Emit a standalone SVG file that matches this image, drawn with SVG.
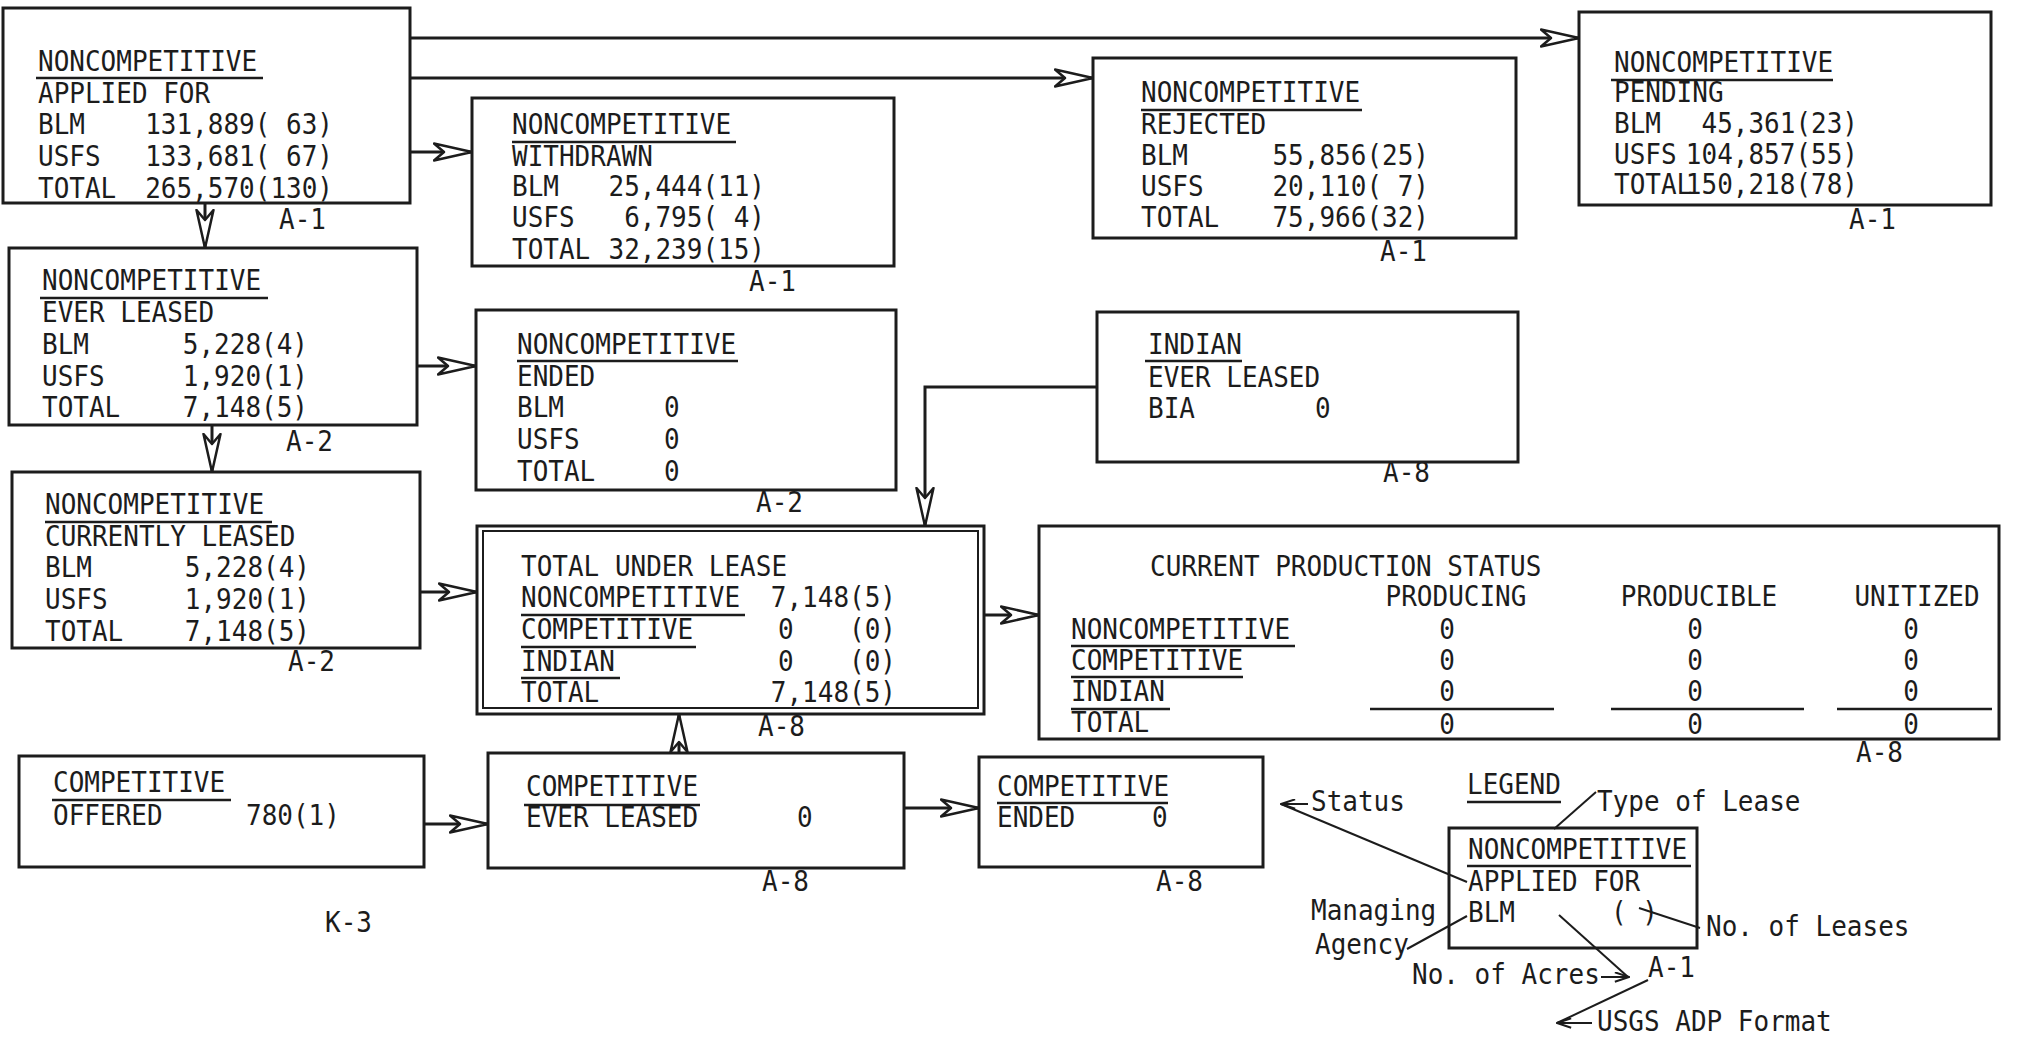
<svg xmlns="http://www.w3.org/2000/svg" width="2017" height="1045" viewBox="0 0 2017 1045">
<style>
  text { font-family: "DejaVu Sans Mono", "Liberation Mono", monospace; font-size: 26px; fill: #1c1c1c; transform-box: fill-box; transform-origin: 0 100%; transform: scaleY(1.1); }
  .box { fill: none; stroke: #1c1c1c; stroke-width: 3; }
  .ul { stroke: #1c1c1c; stroke-width: 2.5; }
  .ln { fill: none; stroke: #1c1c1c; stroke-width: 3; }
  .thin { fill: none; stroke: #1c1c1c; stroke-width: 2; }
  .end { text-anchor: end; }
  .mid { text-anchor: middle; }
</style>
<defs>
  <marker id="arr" viewBox="0 0 40 20" refX="39" refY="10" markerWidth="40" markerHeight="20" markerUnits="userSpaceOnUse" orient="auto">
    <path d="M1,1.5 L39,10 L1,18.5 L11,10 Z" fill="#ffffff" stroke="#1c1c1c" stroke-width="2.5" stroke-linejoin="round"/>
  </marker>
  <marker id="sarr" viewBox="0 0 20 14" refX="19" refY="7" markerWidth="16" markerHeight="11" markerUnits="userSpaceOnUse" orient="auto">
    <path d="M1,1 L19,7 L1,13" fill="none" stroke="#1c1c1c" stroke-width="2.5"/>
  </marker>
</defs>
<rect x="0" y="0" width="2017" height="1045" fill="#ffffff"/>

<g id="connectors">
  <path class="ln" d="M410,38 L1579,38" marker-end="url(#arr)"/>
  <path class="ln" d="M410,78 L1093,78" marker-end="url(#arr)"/>
  <path class="ln" d="M410,152 L472,152" marker-end="url(#arr)"/>
  <path class="ln" d="M205,203 L205,248" marker-end="url(#arr)"/>
  <path class="ln" d="M417,366 L476,366" marker-end="url(#arr)"/>
  <path class="ln" d="M212,425 L212,472" marker-end="url(#arr)"/>
  <path class="ln" d="M420,592 L477,592" marker-end="url(#arr)"/>
  <path class="ln" d="M1097,387 L925,387 L925,526" marker-end="url(#arr)"/>
  <path class="ln" d="M984,615 L1039,615" marker-end="url(#arr)"/>
  <path class="ln" d="M679,753 L679,714" marker-end="url(#arr)"/>
  <path class="ln" d="M424,824 L488,824" marker-end="url(#arr)"/>
  <path class="ln" d="M904,808 L979,808" marker-end="url(#arr)"/>
</g>

<g id="noncomp-applied">
  <rect class="box" x="3" y="8" width="407" height="195"/>
  <text x="38" y="72">NONCOMPETITIVE</text>
  <line class="ul" x1="36" y1="78" x2="263" y2="78"/>
  <text x="38" y="104">APPLIED FOR</text>
  <text x="38" y="135">BLM</text><text class="end" x="333" y="135">131,889( 63)</text>
  <text x="38" y="167">USFS</text><text class="end" x="333" y="167">133,681( 67)</text>
  <text x="38" y="199">TOTAL</text><text class="end" x="333" y="199">265,570(130)</text>
  <text x="279" y="230">A-1</text>
</g>

<g id="noncomp-withdrawn">
  <rect class="box" x="472" y="98" width="422" height="168"/>
  <text x="512" y="135">NONCOMPETITIVE</text>
  <line class="ul" x1="512" y1="142" x2="736" y2="142"/>
  <text x="512" y="167">WITHDRAWN</text>
  <text x="512" y="197">BLM</text><text class="end" x="765" y="197">25,444(11)</text>
  <text x="512" y="228">USFS</text><text class="end" x="765" y="228">6,795( 4)</text>
  <text x="512" y="260">TOTAL</text><text class="end" x="765" y="260">32,239(15)</text>
  <text x="749" y="292">A-1</text>
</g>

<g id="noncomp-rejected">
  <rect class="box" x="1093" y="58" width="423" height="180"/>
  <text x="1141" y="103">NONCOMPETITIVE</text>
  <line class="ul" x1="1141" y1="110" x2="1362" y2="110"/>
  <text x="1141" y="135">REJECTED</text>
  <text x="1141" y="166">BLM</text><text class="end" x="1429" y="166">55,856(25)</text>
  <text x="1141" y="197">USFS</text><text class="end" x="1429" y="197">20,110( 7)</text>
  <text x="1141" y="228">TOTAL</text><text class="end" x="1429" y="228">75,966(32)</text>
  <text x="1380" y="262">A-1</text>
</g>

<g id="noncomp-pending">
  <rect class="box" x="1579" y="12" width="412" height="193"/>
  <text x="1614" y="73">NONCOMPETITIVE</text>
  <line class="ul" x1="1611" y1="80" x2="1833" y2="80"/>
  <text x="1614" y="103">PENDING</text>
  <text x="1614" y="134">BLM</text><text class="end" x="1858" y="134">45,361(23)</text>
  <text x="1614" y="165">USFS</text><text class="end" x="1858" y="165">104,857(55)</text>
  <text x="1614" y="195">TOTAL</text><text class="end" x="1858" y="195">150,218(78)</text>
  <text x="1849" y="230">A-1</text>
</g>

<g id="noncomp-ever-leased">
  <rect class="box" x="9" y="248" width="408" height="177"/>
  <text x="42" y="291">NONCOMPETITIVE</text>
  <line class="ul" x1="40" y1="298" x2="268" y2="298"/>
  <text x="42" y="323">EVER LEASED</text>
  <text x="42" y="355">BLM</text><text class="end" x="308" y="355">5,228(4)</text>
  <text x="42" y="387">USFS</text><text class="end" x="308" y="387">1,920(1)</text>
  <text x="42" y="418">TOTAL</text><text class="end" x="308" y="418">7,148(5)</text>
  <text x="286" y="452">A-2</text>
</g>

<g id="noncomp-ended">
  <rect class="box" x="476" y="310" width="420" height="180"/>
  <text x="517" y="355">NONCOMPETITIVE</text>
  <line class="ul" x1="517" y1="361" x2="738" y2="361"/>
  <text x="517" y="387">ENDED</text>
  <text x="517" y="418">BLM</text><text x="664" y="418">0</text>
  <text x="517" y="450">USFS</text><text x="664" y="450">0</text>
  <text x="517" y="482">TOTAL</text><text x="664" y="482">0</text>
  <text x="756" y="513">A-2</text>
</g>

<g id="noncomp-currently-leased">
  <rect class="box" x="12" y="472" width="408" height="176"/>
  <text x="45" y="515">NONCOMPETITIVE</text>
  <line class="ul" x1="45" y1="522" x2="272" y2="522"/>
  <text x="45" y="547">CURRENTLY LEASED</text>
  <text x="45" y="578">BLM</text><text class="end" x="310" y="578">5,228(4)</text>
  <text x="45" y="610">USFS</text><text class="end" x="310" y="610">1,920(1)</text>
  <text x="45" y="642">TOTAL</text><text class="end" x="310" y="642">7,148(5)</text>
  <text x="288" y="672">A-2</text>
</g>

<g id="indian-ever-leased">
  <rect class="box" x="1097" y="312" width="421" height="150"/>
  <text x="1148" y="355">INDIAN</text>
  <line class="ul" x1="1145" y1="361" x2="1242" y2="361"/>
  <text x="1148" y="388">EVER LEASED</text>
  <text x="1148" y="419">BIA</text><text x="1315" y="419">0</text>
  <text x="1383" y="483">A-8</text>
</g>

<g id="total-under-lease">
  <rect class="box" x="477" y="526" width="507" height="188"/>
  <rect class="thin" x="483" y="531" width="495" height="177"/>
  <text x="521" y="577">TOTAL UNDER LEASE</text>
  <text x="521" y="608">NONCOMPETITIVE</text><text class="end" x="896" y="608">7,148(5)</text>
  <line class="ul" x1="521" y1="615" x2="745" y2="615"/>
  <text x="521" y="640">COMPETITIVE</text><text x="778" y="640">0</text><text class="end" x="896" y="640">(0)</text>
  <line class="ul" x1="521" y1="647" x2="696" y2="647"/>
  <text x="521" y="672">INDIAN</text><text x="778" y="672">0</text><text class="end" x="896" y="672">(0)</text>
  <line class="ul" x1="521" y1="678" x2="620" y2="678"/>
  <text x="521" y="703">TOTAL</text><text class="end" x="896" y="703">7,148(5)</text>
  <text x="758" y="737">A-8</text>
</g>

<g id="current-production-status">
  <rect class="box" x="1039" y="526" width="960" height="213"/>
  <text x="1150" y="577">CURRENT PRODUCTION STATUS</text>
  <text class="mid" x="1456" y="607">PRODUCING</text>
  <text class="mid" x="1699" y="607">PRODUCIBLE</text>
  <text class="mid" x="1917" y="607">UNITIZED</text>
  <text x="1071" y="640">NONCOMPETITIVE</text>
  <line class="ul" x1="1071" y1="646" x2="1295" y2="646"/>
  <text x="1071" y="671">COMPETITIVE</text>
  <line class="ul" x1="1071" y1="677" x2="1243" y2="677"/>
  <text x="1071" y="702">INDIAN</text>
  <line class="ul" x1="1071" y1="709" x2="1170" y2="709"/>
  <text x="1071" y="733">TOTAL</text>
  <text class="mid" x="1447" y="640">0</text><text class="mid" x="1695" y="640">0</text><text class="mid" x="1911" y="640">0</text>
  <text class="mid" x="1447" y="671">0</text><text class="mid" x="1695" y="671">0</text><text class="mid" x="1911" y="671">0</text>
  <text class="mid" x="1447" y="702">0</text><text class="mid" x="1695" y="702">0</text><text class="mid" x="1911" y="702">0</text>
  <line class="ul" x1="1370" y1="709" x2="1554" y2="709"/>
  <line class="ul" x1="1611" y1="709" x2="1804" y2="709"/>
  <line class="ul" x1="1837" y1="709" x2="1992" y2="709"/>
  <text class="mid" x="1447" y="735">0</text><text class="mid" x="1695" y="735">0</text><text class="mid" x="1911" y="735">0</text>
  <text x="1856" y="763">A-8</text>
</g>

<g id="competitive-offered">
  <rect class="box" x="19" y="756" width="405" height="111"/>
  <text x="53" y="793">COMPETITIVE</text>
  <line class="ul" x1="52" y1="800" x2="231" y2="800"/>
  <text x="53" y="826">OFFERED</text>
  <text x="246" y="826">780(1)</text>
</g>

<g id="competitive-ever-leased">
  <rect class="box" x="488" y="753" width="416" height="115"/>
  <text x="526" y="797">COMPETITIVE</text>
  <line class="ul" x1="524" y1="805" x2="700" y2="805"/>
  <text x="526" y="828">EVER LEASED</text>
  <text x="797" y="828">0</text>
  <text x="762" y="892">A-8</text>
</g>

<g id="competitive-ended">
  <rect class="box" x="979" y="757" width="284" height="110"/>
  <text x="997" y="797">COMPETITIVE</text>
  <line class="ul" x1="997" y1="803" x2="1168" y2="803"/>
  <text x="997" y="828">ENDED</text>
  <text x="1152" y="828">0</text>
  <text x="1156" y="892">A-8</text>
</g>

<g id="page-number">
  <text x="325" y="933">K-3</text>
</g>

<g id="legend">
  <text x="1467" y="795">LEGEND</text>
  <line class="ul" x1="1467" y1="802" x2="1561" y2="802"/>
  <text x="1311" y="812">Status</text>
  <path class="thin" d="M1308,804 L1281,804" marker-end="url(#sarr)"/>
  <path class="thin" d="M1281,804 L1467,882"/>
  <text x="1597" y="812">Type of Lease</text>
  <path class="thin" d="M1596,792 L1554,829"/>
  <rect class="box" x="1449" y="828" width="248" height="120"/>
  <text x="1468" y="860">NONCOMPETITIVE</text>
  <line class="ul" x1="1467" y1="866" x2="1691" y2="866"/>
  <text x="1468" y="892">APPLIED FOR</text>
  <text x="1468" y="923">BLM</text>
  <text x="1611" y="923">( )</text>
  <path class="thin" d="M1639,908 L1700,928"/>
  <text x="1706" y="937">No. of Leases</text>
  <text x="1311" y="921">Managing</text>
  <text x="1315" y="955">Agency</text>
  <path class="thin" d="M1407,949 L1467,916"/>
  <text x="1412" y="985">No. of Acres</text>
  <path class="thin" d="M1601,977 L1629,977" marker-end="url(#sarr)"/>
  <path class="thin" d="M1559,915 L1628,977"/>
  <text x="1648" y="978">A-1</text>
  <path class="thin" d="M1648,980 L1557,1023"/>
  <path class="thin" d="M1592,1023 L1557,1023" marker-end="url(#sarr)"/>
  <text x="1597" y="1032">USGS ADP Format</text>
</g>
</svg>
